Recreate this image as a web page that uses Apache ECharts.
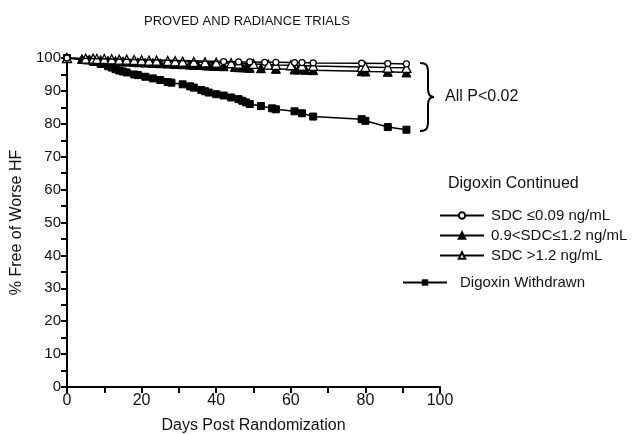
<!DOCTYPE html>
<html>
<head>
<meta charset="utf-8">
<script src="https://cdn.jsdelivr.net/npm/echarts@6/dist/echarts.min.js"></script>
<style>
  html, body { margin: 0; padding: 0; background: #fff; }
  #main { width: 638px; height: 434px; }
</style>
</head>
<body>
<div id="main"></div>
<script type="text/javascript">
    // 数据
    var withdrawnDays = [0, 5, 7, 9, 11, 12, 13, 14, 15, 16, 18, 19, 21, 23, 25, 27, 28, 31, 33, 34, 36, 37, 38, 40, 42, 44, 46, 47, 48, 49, 52, 55, 56, 61, 63, 66, 79, 80, 86, 91];
    var withdrawnVals = [100, 99.3, 98.8, 98.2, 97.5, 97.1, 96.6, 96.2, 95.9, 95.6, 95.0, 94.8, 94.3, 93.8, 93.3, 92.7, 92.5, 92.0, 91.4, 91.0, 90.3, 89.9, 89.5, 89.0, 88.6, 88.0, 87.5, 87.0, 86.5, 86.0, 85.4, 84.7, 84.4, 83.8, 83.2, 82.2, 81.4, 80.9, 79.0, 78.2];

    var lowDays = [0, 42, 46, 49, 53, 56, 61, 63, 66, 79, 86, 91];
    var lowVals = [100, 98.9, 98.8, 98.8, 98.7, 98.7, 98.6, 98.6, 98.5, 98.4, 98.3, 98.2];

    var midDays = [0, 4, 6, 7, 8, 9, 10, 11, 13, 14, 15, 16, 18, 19, 21, 23, 25, 27, 29, 31, 33, 34, 35, 37, 38, 39, 40, 42, 45, 46, 47, 48, 49, 52, 56, 61, 62, 64, 66, 79, 80, 86, 91];
    var midVals = [100, 99.7, 99.6, 99.5, 99.4, 99.4, 99.3, 99.2, 99.1, 99.0, 99.0, 98.9, 98.8, 98.7, 98.6, 98.5, 98.4, 98.3, 98.2, 98.1, 98.0, 97.9, 97.9, 97.8, 97.7, 97.7, 97.6, 97.5, 97.3, 97.2, 97.2, 97.1, 97.0, 96.9, 96.7, 96.5, 96.5, 96.4, 96.3, 96.0, 95.9, 95.8, 95.6];

    var highDays = [0, 5, 7, 8, 10, 12, 14, 16, 18, 20, 22, 24, 27, 29, 31, 34, 37, 40, 44, 46, 50, 54, 56, 60, 63, 66, 79, 80, 86, 91];
    var highVals = [100, 99.8, 99.8, 99.7, 99.7, 99.6, 99.5, 99.5, 99.4, 99.3, 99.2, 99.2, 99.1, 99.0, 98.9, 98.8, 98.7, 98.6, 98.4, 98.3, 98.2, 98.0, 97.9, 97.8, 97.7, 97.6, 97.3, 97.3, 97.1, 97.0];

    var seriesNames = ['SDC \u22640.09 ng/mL', '0.9<SDC\u22641.2 ng/mL', 'SDC >1.2 ng/mL', 'Digoxin Withdrawn'];

    function pairs(xs, ys) {
        var out = [];
        for (var i = 0; i < xs.length; i++) out.push([xs[i], ys[i]]);
        return out;
    }

    var font = 'Liberation Sans, Arial, sans-serif';
    var braceStyle = { stroke: '#000', lineWidth: 2, fill: null };
    var myChart = echarts.init(document.getElementById('main'));

    var option = {
        animation: false,
        backgroundColor: '#fff',
        title: {
            text: 'PROVED AND RADIANCE TRIALS',
            left: 242,
            textAlign: 'center',
            top: 10,
            textStyle: { fontFamily: font, fontSize: 13, fontWeight: 'normal', color: '#111' }
        },
        legend: [{
            orient: 'vertical',
            left: 434,
            top: 203,
            itemWidth: 44,
            itemHeight: 8,
            itemGap: 5,
            data: [seriesNames[0], seriesNames[1], seriesNames[2]],
            textStyle: { fontFamily: font, fontSize: 15, color: '#111', padding: [0, 0, 0, 2] }
        }, {
            orient: 'vertical',
            left: 397,
            top: 270,
            itemWidth: 44,
            itemHeight: 8,
            data: [seriesNames[3]],
            textStyle: { fontFamily: font, fontSize: 15, color: '#111', padding: [0, 0, 0, 8] }
        }],
        grid: { left: 67, right: 198, top: 58, bottom: 47, containLabel: false, outerBoundsMode: 'none' },
        xAxis: {
            type: 'value',
            min: 0,
            max: 100,
            interval: 20,
            name: 'Days Post Randomization',
            nameLocation: 'middle',
            nameGap: 31,
            nameTextStyle: { fontFamily: font, fontSize: 16, color: '#111' },
            axisLine: { lineStyle: { color: '#000', width: 2 } },
            axisTick: { length: 6, lineStyle: { color: '#000', width: 2 } },
            minorTick: { show: true, splitNumber: 2, length: 6, lineStyle: { color: '#000', width: 2 } },
            axisLabel: { fontFamily: font, fontSize: 16, color: '#111', margin: 6 },
            splitLine: { show: false }
        },
        yAxis: {
            type: 'value',
            min: 0,
            max: 100,
            interval: 10,
            name: '% Free of Worse HF',
            nameLocation: 'middle',
            nameGap: 41,
            nameTextStyle: { fontFamily: font, fontSize: 16, color: '#111' },
            axisLine: { show: true, lineStyle: { color: '#000', width: 2 } },
            axisTick: { show: true, length: 6, lineStyle: { color: '#000', width: 2 } },
            minorTick: { show: true, splitNumber: 2, length: 6, lineStyle: { color: '#000', width: 2 } },
            axisLabel: { fontFamily: font, fontSize: 15, color: '#111', margin: 6 },
            splitLine: { show: false }
        },
        graphic: [{
            type: 'text',
            left: 448,
            top: 176,
            style: { text: 'Digoxin Continued', fontFamily: font, fontSize: 16, fill: '#111' }
        },
        // 大括号
        { type: 'bezierCurve', shape: { x1: 420, y1: 63, cpx1: 427, cpy1: 63, cpx2: 428, cpy2: 66, x2: 428, y2: 73 }, style: braceStyle },
        { type: 'line', shape: { x1: 428, y1: 73, x2: 428, y2: 89 }, style: braceStyle },
        { type: 'bezierCurve', shape: { x1: 428, y1: 89, cpx1: 428, cpy1: 94, cpx2: 430, cpy2: 97, x2: 434, y2: 97 }, style: braceStyle },
        { type: 'bezierCurve', shape: { x1: 434, y1: 97, cpx1: 430, cpy1: 97, cpx2: 428, cpy2: 100, x2: 428, y2: 105 }, style: braceStyle },
        { type: 'line', shape: { x1: 428, y1: 105, x2: 428, y2: 121 }, style: braceStyle },
        { type: 'bezierCurve', shape: { x1: 428, y1: 121, cpx1: 428, cpy1: 128, cpx2: 427, cpy2: 131, x2: 420, y2: 131 }, style: braceStyle },
        {
            type: 'text',
            left: 445,
            top: 89,
            style: { text: 'All P<0.02', fontFamily: font, fontSize: 16, fill: '#111' }
        }],
        series: [{
            name: seriesNames[3],
            type: 'line',
            data: pairs(withdrawnDays, withdrawnVals),
            symbol: 'rect',
            symbolSize: 7,
            itemStyle: { color: '#000', borderColor: '#000' },
            lineStyle: { color: '#000', width: 1.5 },
            z: 2
        }, {
            name: seriesNames[1],
            type: 'line',
            data: pairs(midDays, midVals),
            symbol: 'triangle',
            symbolSize: 9,
            itemStyle: { color: '#000', borderColor: '#000', borderWidth: 1 },
            lineStyle: { color: '#000', width: 1.5 },
            z: 3
        }, {
            name: seriesNames[2],
            type: 'line',
            data: pairs(highDays, highVals),
            symbol: 'triangle',
            symbolSize: 9,
            itemStyle: { color: '#fff', borderColor: '#000', borderWidth: 1.3 },
            lineStyle: { color: '#000', width: 1.5 },
            z: 4
        }, {
            name: seriesNames[0],
            type: 'line',
            data: pairs(lowDays, lowVals),
            symbol: 'circle',
            symbolSize: 6,
            showSymbol: true,
            itemStyle: { color: '#fff', borderColor: '#000', borderWidth: 1.3 },
            lineStyle: { color: '#000', width: 1.5 },
            z: 5
        }]
    };
    myChart.setOption(option);
</script>
</body>
</html>
